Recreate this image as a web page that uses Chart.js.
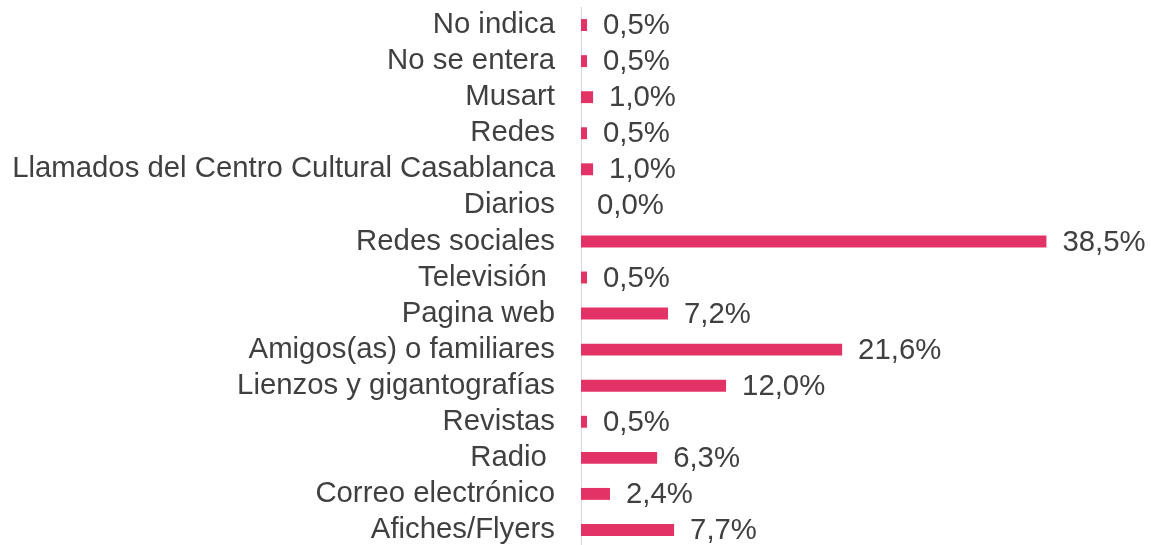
<!DOCTYPE html>
<html>
<head>
<meta charset="utf-8">
<script src="https://cdn.jsdelivr.net/npm/chart.js@4/dist/chart.umd.min.js"></script>
<style>
html,body{margin:0;padding:0;background:#fff;overflow:hidden;}
#wrap{position:relative;width:1151px;height:548px;}
</style>
</head>
<body>
<div id="wrap"><canvas id="c"></canvas></div>
<script>
const categories = ["No indica","No se entera","Musart","Redes","Llamados del Centro Cultural Casablanca","Diarios","Redes sociales","Televisión ","Pagina web","Amigos(as) o familiares","Lienzos y gigantografías","Revistas","Radio ","Correo electrónico","Afiches/Flyers"];
const values = [0.5,0.5,1.0,0.5,1.0,0.0,38.5,0.5,7.2,21.6,12.0,0.5,6.3,2.4,7.7];

const fontFamily = "'Liberation Sans', Arial, sans-serif";
const fontSize = 29.33;
const textColor = "#404040";

const valueLabels = {
  id: 'valueLabels',
  afterDatasetsDraw(chart) {
    const ctx = chart.ctx;
    const meta = chart.getDatasetMeta(0);
    ctx.save();
    ctx.font = fontSize + "px " + fontFamily;
    ctx.fillStyle = textColor;
    ctx.textAlign = 'left';
    ctx.textBaseline = 'middle';
    meta.data.forEach((bar, i) => {
      const v = chart.data.datasets[0].data[i];
      const txt = v.toFixed(1).replace('.', ',') + '%';
      ctx.fillText(txt, bar.x + 16, bar.y + 1);
    });
    ctx.restore();
  }
};

new Chart(document.getElementById('c'), {
  type: 'bar',
  data: {
    labels: categories,
    datasets: [{
      data: values,
      backgroundColor: '#E33366',
      borderWidth: 0,
      categoryPercentage: 1.0,
      barPercentage: 0.33
    }]
  },
  options: {
    indexAxis: 'y',
    responsive: true,
    maintainAspectRatio: false,
    animation: false,
    layout: { padding: { left: 0, right: 26, top: 7, bottom: 0 } },
    plugins: { legend: { display: false }, tooltip: { enabled: false } },
    scales: {
      x: {
        display: false,
        min: 0,
        max: 45
      },
      y: {
        afterFit(scale) {
          scale.width = 581;
          scale.paddingTop = 0;
          scale.paddingBottom = 0;
        },
        grid: { display: false, drawTicks: false },
        border: { display: true, color: '#D9D9D9', width: 1 },
        ticks: {
          color: textColor,
          font: { family: fontFamily, size: fontSize },
          padding: 26,
          autoSkip: false
        }
      }
    }
  },
  plugins: [valueLabels]
});
</script>
</body>
</html>
